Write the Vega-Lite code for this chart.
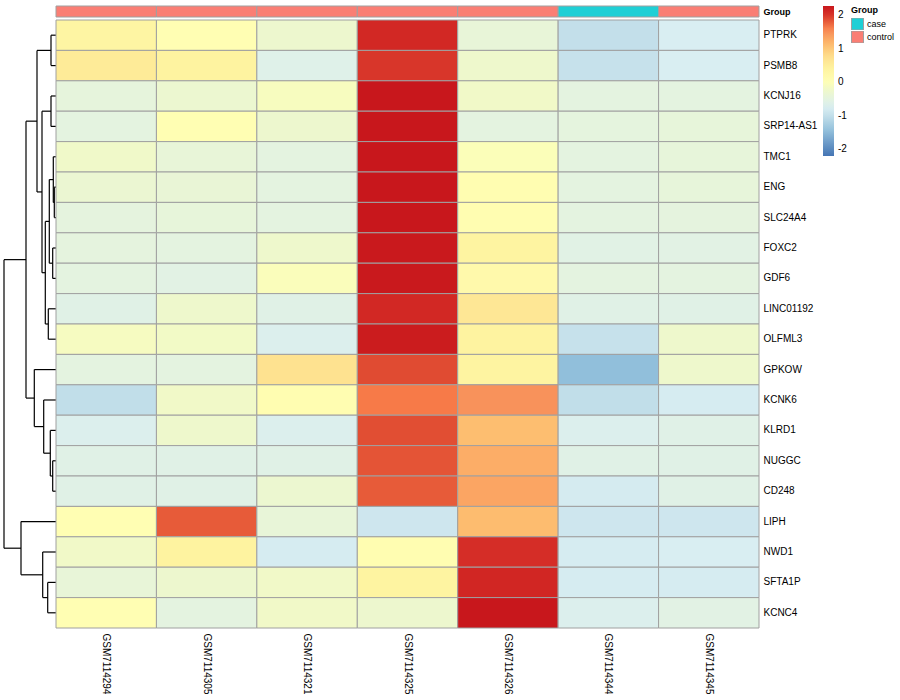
{
  "$schema": "https://vega.github.io/schema/vega-lite/v6.json",
  "padding": {"left": 3, "top": 5, "right": 0, "bottom": 0},
  "background": "white",
  "bounds": "flush",
  "config": {
    "view": {"stroke": null},
    "font": "Liberation Sans",
    "concat": {"spacing": 0},
    "axis": {"labelColor": "#000000", "labelFont": "Liberation Sans"},
    "legend": {"labelColor": "#000000", "titleColor": "#000000", "labelFont": "Liberation Sans", "titleFont": "Liberation Sans"}
  },
  "datasets": {
    "heat": [
      {"gene": "PTPRK", "sample": "GSM7114294", "value": 0.35},
      {"gene": "PTPRK", "sample": "GSM7114305", "value": 0.05},
      {"gene": "PTPRK", "sample": "GSM7114321", "value": -0.28},
      {"gene": "PTPRK", "sample": "GSM7114325", "value": 2.1},
      {"gene": "PTPRK", "sample": "GSM7114326", "value": -0.4},
      {"gene": "PTPRK", "sample": "GSM7114344", "value": -1.0},
      {"gene": "PTPRK", "sample": "GSM7114345", "value": -0.75},
      {"gene": "PSMB8", "sample": "GSM7114294", "value": 0.55},
      {"gene": "PSMB8", "sample": "GSM7114305", "value": 0.4},
      {"gene": "PSMB8", "sample": "GSM7114321", "value": -0.62},
      {"gene": "PSMB8", "sample": "GSM7114325", "value": 2.0},
      {"gene": "PSMB8", "sample": "GSM7114326", "value": -0.25},
      {"gene": "PSMB8", "sample": "GSM7114344", "value": -0.97},
      {"gene": "PSMB8", "sample": "GSM7114345", "value": -0.75},
      {"gene": "KCNJ16", "sample": "GSM7114294", "value": -0.45},
      {"gene": "KCNJ16", "sample": "GSM7114305", "value": -0.3},
      {"gene": "KCNJ16", "sample": "GSM7114321", "value": -0.1},
      {"gene": "KCNJ16", "sample": "GSM7114325", "value": 2.27},
      {"gene": "KCNJ16", "sample": "GSM7114326", "value": -0.2},
      {"gene": "KCNJ16", "sample": "GSM7114344", "value": -0.5},
      {"gene": "KCNJ16", "sample": "GSM7114345", "value": -0.5},
      {"gene": "SRP14-AS1", "sample": "GSM7114294", "value": -0.5},
      {"gene": "SRP14-AS1", "sample": "GSM7114305", "value": 0.05},
      {"gene": "SRP14-AS1", "sample": "GSM7114321", "value": -0.28},
      {"gene": "SRP14-AS1", "sample": "GSM7114325", "value": 2.27},
      {"gene": "SRP14-AS1", "sample": "GSM7114326", "value": -0.5},
      {"gene": "SRP14-AS1", "sample": "GSM7114344", "value": -0.47},
      {"gene": "SRP14-AS1", "sample": "GSM7114345", "value": -0.42},
      {"gene": "TMC1", "sample": "GSM7114294", "value": -0.22},
      {"gene": "TMC1", "sample": "GSM7114305", "value": -0.4},
      {"gene": "TMC1", "sample": "GSM7114321", "value": -0.5},
      {"gene": "TMC1", "sample": "GSM7114325", "value": 2.27},
      {"gene": "TMC1", "sample": "GSM7114326", "value": -0.03},
      {"gene": "TMC1", "sample": "GSM7114344", "value": -0.5},
      {"gene": "TMC1", "sample": "GSM7114345", "value": -0.42},
      {"gene": "ENG", "sample": "GSM7114294", "value": -0.33},
      {"gene": "ENG", "sample": "GSM7114305", "value": -0.38},
      {"gene": "ENG", "sample": "GSM7114321", "value": -0.5},
      {"gene": "ENG", "sample": "GSM7114325", "value": 2.27},
      {"gene": "ENG", "sample": "GSM7114326", "value": 0.08},
      {"gene": "ENG", "sample": "GSM7114344", "value": -0.5},
      {"gene": "ENG", "sample": "GSM7114345", "value": -0.42},
      {"gene": "SLC24A4", "sample": "GSM7114294", "value": -0.48},
      {"gene": "SLC24A4", "sample": "GSM7114305", "value": -0.42},
      {"gene": "SLC24A4", "sample": "GSM7114321", "value": -0.5},
      {"gene": "SLC24A4", "sample": "GSM7114325", "value": 2.27},
      {"gene": "SLC24A4", "sample": "GSM7114326", "value": 0.08},
      {"gene": "SLC24A4", "sample": "GSM7114344", "value": -0.5},
      {"gene": "SLC24A4", "sample": "GSM7114345", "value": -0.48},
      {"gene": "FOXC2", "sample": "GSM7114294", "value": -0.48},
      {"gene": "FOXC2", "sample": "GSM7114305", "value": -0.5},
      {"gene": "FOXC2", "sample": "GSM7114321", "value": -0.25},
      {"gene": "FOXC2", "sample": "GSM7114325", "value": 2.25},
      {"gene": "FOXC2", "sample": "GSM7114326", "value": 0.38},
      {"gene": "FOXC2", "sample": "GSM7114344", "value": -0.57},
      {"gene": "FOXC2", "sample": "GSM7114345", "value": -0.55},
      {"gene": "GDF6", "sample": "GSM7114294", "value": -0.5},
      {"gene": "GDF6", "sample": "GSM7114305", "value": -0.55},
      {"gene": "GDF6", "sample": "GSM7114321", "value": -0.05},
      {"gene": "GDF6", "sample": "GSM7114325", "value": 2.25},
      {"gene": "GDF6", "sample": "GSM7114326", "value": 0.2},
      {"gene": "GDF6", "sample": "GSM7114344", "value": -0.5},
      {"gene": "GDF6", "sample": "GSM7114345", "value": -0.5},
      {"gene": "LINC01192", "sample": "GSM7114294", "value": -0.58},
      {"gene": "LINC01192", "sample": "GSM7114305", "value": -0.25},
      {"gene": "LINC01192", "sample": "GSM7114321", "value": -0.58},
      {"gene": "LINC01192", "sample": "GSM7114325", "value": 2.1},
      {"gene": "LINC01192", "sample": "GSM7114326", "value": 0.62},
      {"gene": "LINC01192", "sample": "GSM7114344", "value": -0.58},
      {"gene": "LINC01192", "sample": "GSM7114345", "value": -0.58},
      {"gene": "OLFML3", "sample": "GSM7114294", "value": -0.12},
      {"gene": "OLFML3", "sample": "GSM7114305", "value": -0.18},
      {"gene": "OLFML3", "sample": "GSM7114321", "value": -0.68},
      {"gene": "OLFML3", "sample": "GSM7114325", "value": 2.22},
      {"gene": "OLFML3", "sample": "GSM7114326", "value": 0.4},
      {"gene": "OLFML3", "sample": "GSM7114344", "value": -0.97},
      {"gene": "OLFML3", "sample": "GSM7114345", "value": -0.25},
      {"gene": "GPKOW", "sample": "GSM7114294", "value": -0.5},
      {"gene": "GPKOW", "sample": "GSM7114305", "value": -0.5},
      {"gene": "GPKOW", "sample": "GSM7114321", "value": 0.72},
      {"gene": "GPKOW", "sample": "GSM7114325", "value": 1.88},
      {"gene": "GPKOW", "sample": "GSM7114326", "value": 0.38},
      {"gene": "GPKOW", "sample": "GSM7114344", "value": -1.45},
      {"gene": "GPKOW", "sample": "GSM7114345", "value": -0.25},
      {"gene": "KCNK6", "sample": "GSM7114294", "value": -1.02},
      {"gene": "KCNK6", "sample": "GSM7114305", "value": -0.2},
      {"gene": "KCNK6", "sample": "GSM7114321", "value": 0.08},
      {"gene": "KCNK6", "sample": "GSM7114325", "value": 1.65},
      {"gene": "KCNK6", "sample": "GSM7114326", "value": 1.48},
      {"gene": "KCNK6", "sample": "GSM7114344", "value": -1.02},
      {"gene": "KCNK6", "sample": "GSM7114345", "value": -0.78},
      {"gene": "KLRD1", "sample": "GSM7114294", "value": -0.68},
      {"gene": "KLRD1", "sample": "GSM7114305", "value": -0.25},
      {"gene": "KLRD1", "sample": "GSM7114321", "value": -0.68},
      {"gene": "KLRD1", "sample": "GSM7114325", "value": 1.86},
      {"gene": "KLRD1", "sample": "GSM7114326", "value": 1.1},
      {"gene": "KLRD1", "sample": "GSM7114344", "value": -0.68},
      {"gene": "KLRD1", "sample": "GSM7114345", "value": -0.6},
      {"gene": "NUGGC", "sample": "GSM7114294", "value": -0.58},
      {"gene": "NUGGC", "sample": "GSM7114305", "value": -0.58},
      {"gene": "NUGGC", "sample": "GSM7114321", "value": -0.58},
      {"gene": "NUGGC", "sample": "GSM7114325", "value": 1.83},
      {"gene": "NUGGC", "sample": "GSM7114326", "value": 1.25},
      {"gene": "NUGGC", "sample": "GSM7114344", "value": -0.58},
      {"gene": "NUGGC", "sample": "GSM7114345", "value": -0.58},
      {"gene": "CD248", "sample": "GSM7114294", "value": -0.58},
      {"gene": "CD248", "sample": "GSM7114305", "value": -0.58},
      {"gene": "CD248", "sample": "GSM7114321", "value": -0.3},
      {"gene": "CD248", "sample": "GSM7114325", "value": 1.8},
      {"gene": "CD248", "sample": "GSM7114326", "value": 1.32},
      {"gene": "CD248", "sample": "GSM7114344", "value": -0.8},
      {"gene": "CD248", "sample": "GSM7114345", "value": -0.58},
      {"gene": "LIPH", "sample": "GSM7114294", "value": 0.05},
      {"gene": "LIPH", "sample": "GSM7114305", "value": 1.8},
      {"gene": "LIPH", "sample": "GSM7114321", "value": -0.4},
      {"gene": "LIPH", "sample": "GSM7114325", "value": -0.88},
      {"gene": "LIPH", "sample": "GSM7114326", "value": 1.12},
      {"gene": "LIPH", "sample": "GSM7114344", "value": -0.88},
      {"gene": "LIPH", "sample": "GSM7114345", "value": -0.88},
      {"gene": "NWD1", "sample": "GSM7114294", "value": -0.2},
      {"gene": "NWD1", "sample": "GSM7114305", "value": 0.4},
      {"gene": "NWD1", "sample": "GSM7114321", "value": -0.78},
      {"gene": "NWD1", "sample": "GSM7114325", "value": 0.08},
      {"gene": "NWD1", "sample": "GSM7114326", "value": 2.05},
      {"gene": "NWD1", "sample": "GSM7114344", "value": -0.78},
      {"gene": "NWD1", "sample": "GSM7114345", "value": -0.75},
      {"gene": "SFTA1P", "sample": "GSM7114294", "value": -0.4},
      {"gene": "SFTA1P", "sample": "GSM7114305", "value": -0.28},
      {"gene": "SFTA1P", "sample": "GSM7114321", "value": -0.2},
      {"gene": "SFTA1P", "sample": "GSM7114325", "value": 0.38},
      {"gene": "SFTA1P", "sample": "GSM7114326", "value": 2.12},
      {"gene": "SFTA1P", "sample": "GSM7114344", "value": -0.78},
      {"gene": "SFTA1P", "sample": "GSM7114345", "value": -0.78},
      {"gene": "KCNC4", "sample": "GSM7114294", "value": 0.05},
      {"gene": "KCNC4", "sample": "GSM7114305", "value": -0.5},
      {"gene": "KCNC4", "sample": "GSM7114321", "value": -0.2},
      {"gene": "KCNC4", "sample": "GSM7114325", "value": -0.28},
      {"gene": "KCNC4", "sample": "GSM7114326", "value": 2.27},
      {"gene": "KCNC4", "sample": "GSM7114344", "value": -0.68},
      {"gene": "KCNC4", "sample": "GSM7114345", "value": -0.55}
    ],
    "annot": [
      {"sample": "GSM7114294", "track": "Group", "Group": "control"},
      {"sample": "GSM7114305", "track": "Group", "Group": "control"},
      {"sample": "GSM7114321", "track": "Group", "Group": "control"},
      {"sample": "GSM7114325", "track": "Group", "Group": "control"},
      {"sample": "GSM7114326", "track": "Group", "Group": "control"},
      {"sample": "GSM7114344", "track": "Group", "Group": "case"},
      {"sample": "GSM7114345", "track": "Group", "Group": "control"}
    ],
    "dendro": [
      {"h0": 5, "h1": 5, "p0": 0.5, "p1": 1.5},
      {"h0": 0, "h1": 5, "p0": 0.5, "p1": 0.5},
      {"h0": 0, "h1": 5, "p0": 1.5, "p1": 1.5},
      {"h0": 5, "h1": 5, "p0": 2.5, "p1": 3.5},
      {"h0": 0, "h1": 5, "p0": 2.5, "p1": 2.5},
      {"h0": 0, "h1": 5, "p0": 3.5, "p1": 3.5},
      {"h0": 1.7, "h1": 1.7, "p0": 5.5, "p1": 6.5},
      {"h0": 0, "h1": 1.7, "p0": 5.5, "p1": 5.5},
      {"h0": 0, "h1": 1.7, "p0": 6.5, "p1": 6.5},
      {"h0": 2.7, "h1": 2.7, "p0": 4.5, "p1": 6.0},
      {"h0": 0, "h1": 2.7, "p0": 4.5, "p1": 4.5},
      {"h0": 1.7, "h1": 2.7, "p0": 6.0, "p1": 6.0},
      {"h0": 3.3, "h1": 3.3, "p0": 7.5, "p1": 8.5},
      {"h0": 0, "h1": 3.3, "p0": 7.5, "p1": 7.5},
      {"h0": 0, "h1": 3.3, "p0": 8.5, "p1": 8.5},
      {"h0": 6.7, "h1": 6.7, "p0": 5.25, "p1": 8.0},
      {"h0": 2.7, "h1": 6.7, "p0": 5.25, "p1": 5.25},
      {"h0": 3.3, "h1": 6.7, "p0": 8.0, "p1": 8.0},
      {"h0": 7.7, "h1": 7.7, "p0": 9.5, "p1": 10.5},
      {"h0": 0, "h1": 7.7, "p0": 9.5, "p1": 9.5},
      {"h0": 0, "h1": 7.7, "p0": 10.5, "p1": 10.5},
      {"h0": 10.7, "h1": 10.7, "p0": 6.625, "p1": 10.0},
      {"h0": 6.7, "h1": 10.7, "p0": 6.625, "p1": 6.625},
      {"h0": 7.7, "h1": 10.7, "p0": 10.0, "p1": 10.0},
      {"h0": 14, "h1": 14, "p0": 3.0, "p1": 8.3125},
      {"h0": 5, "h1": 14, "p0": 3.0, "p1": 3.0},
      {"h0": 10.7, "h1": 14, "p0": 8.3125, "p1": 8.3125},
      {"h0": 19, "h1": 19, "p0": 1.0, "p1": 5.656},
      {"h0": 5, "h1": 19, "p0": 1.0, "p1": 1.0},
      {"h0": 14, "h1": 19, "p0": 5.656, "p1": 5.656},
      {"h0": 3.3, "h1": 3.3, "p0": 14.5, "p1": 15.5},
      {"h0": 0, "h1": 3.3, "p0": 14.5, "p1": 14.5},
      {"h0": 0, "h1": 3.3, "p0": 15.5, "p1": 15.5},
      {"h0": 5.7, "h1": 5.7, "p0": 13.5, "p1": 15.0},
      {"h0": 0, "h1": 5.7, "p0": 13.5, "p1": 13.5},
      {"h0": 3.3, "h1": 5.7, "p0": 15.0, "p1": 15.0},
      {"h0": 12.3, "h1": 12.3, "p0": 12.5, "p1": 14.25},
      {"h0": 0, "h1": 12.3, "p0": 12.5, "p1": 12.5},
      {"h0": 5.7, "h1": 12.3, "p0": 14.25, "p1": 14.25},
      {"h0": 21.7, "h1": 21.7, "p0": 11.5, "p1": 13.375},
      {"h0": 0, "h1": 21.7, "p0": 11.5, "p1": 11.5},
      {"h0": 12.3, "h1": 21.7, "p0": 13.375, "p1": 13.375},
      {"h0": 30, "h1": 30, "p0": 3.328, "p1": 12.4375},
      {"h0": 19, "h1": 30, "p0": 3.328, "p1": 3.328},
      {"h0": 21.7, "h1": 30, "p0": 12.4375, "p1": 12.4375},
      {"h0": 8.3, "h1": 8.3, "p0": 18.5, "p1": 19.5},
      {"h0": 0, "h1": 8.3, "p0": 18.5, "p1": 18.5},
      {"h0": 0, "h1": 8.3, "p0": 19.5, "p1": 19.5},
      {"h0": 13.3, "h1": 13.3, "p0": 17.5, "p1": 19.0},
      {"h0": 0, "h1": 13.3, "p0": 17.5, "p1": 17.5},
      {"h0": 8.3, "h1": 13.3, "p0": 19.0, "p1": 19.0},
      {"h0": 35, "h1": 35, "p0": 16.5, "p1": 18.25},
      {"h0": 0, "h1": 35, "p0": 16.5, "p1": 16.5},
      {"h0": 13.3, "h1": 35, "p0": 18.25, "p1": 18.25},
      {"h0": 52, "h1": 52, "p0": 7.883, "p1": 17.375},
      {"h0": 30, "h1": 52, "p0": 7.883, "p1": 7.883},
      {"h0": 35, "h1": 52, "p0": 17.375, "p1": 17.375}
    ]
  },
  "hconcat": [
    {
      "data": {"name": "dendro"},
      "width": 52,
      "height": 622,
      "mark": {"type": "rule", "color": "#000000", "strokeWidth": 1.2},
      "encoding": {
        "x": {"field": "h0", "type": "quantitative", "scale": {"domain": [0, 52], "reverse": true, "nice": false, "zero": false}, "axis": null},
        "x2": {"field": "h1"},
        "y": {"field": "p0", "type": "quantitative", "scale": {"domain": [-0.46, 20], "reverse": true, "nice": false, "zero": false}, "axis": null},
        "y2": {"field": "p1"}
      }
    },
    {
      "spacing": 3,
      "bounds": "flush",
      "vconcat": [
        {
          "data": {"name": "annot"},
          "width": 703,
          "height": 11,
          "mark": {"type": "rect", "stroke": "#A0A0A0", "strokeWidth": 1},
          "encoding": {
            "x": {"field": "sample", "type": "nominal", "sort": null, "scale": {"paddingInner": 0, "paddingOuter": 0}, "axis": null},
            "y": {"field": "track", "type": "nominal", "scale": {"paddingInner": 0, "paddingOuter": 0}, "axis": {"orient": "right", "title": null, "ticks": false, "domain": false, "labelFontWeight": "bold", "labelFontSize": 9, "labelPadding": 4}},
            "fill": {"field": "Group", "type": "nominal", "scale": {"domain": ["case", "control"], "range": ["#1FCFD5", "#FA7E74"]},
              "legend": {"orient": "none", "legendX": 847, "legendY": 0, "title": "Group", "titleFontSize": 9, "titleFontWeight": "bold", "titlePadding": 3, "symbolType": "square", "symbolSize": 144, "symbolStrokeColor": "#A0A0A0", "symbolStrokeWidth": 1, "symbolOpacity": 1, "labelFontSize": 9, "rowPadding": 1, "clipHeight": 12, "labelOffset": 3}}
          }
        },
        {
          "data": {"name": "heat"},
          "width": 703,
          "height": 608,
          "mark": {"type": "rect", "stroke": "#A0A0A0", "strokeWidth": 1},
          "encoding": {
            "x": {"field": "sample", "type": "nominal", "sort": null, "scale": {"paddingInner": 0, "paddingOuter": 0},
              "axis": {"orient": "bottom", "title": null, "ticks": false, "domain": false, "labelAngle": 90, "labelAlign": "left", "labelBaseline": "middle", "labelFontSize": 10, "labelPadding": 5}},
            "y": {"field": "gene", "type": "nominal", "sort": null, "scale": {"paddingInner": 0, "paddingOuter": 0},
              "axis": {"orient": "right", "title": null, "ticks": false, "domain": false, "labelFontSize": 10, "labelPadding": 4}},
            "color": {"field": "value", "type": "quantitative",
              "scale": {"type": "linear", "interpolate": "rgb", "clamp": true,
                "domain": [-2.2, -1.45, -1.0, -0.75, -0.5, -0.25, 0.03, 0.4, 0.75, 1.15, 1.5, 1.65, 1.85, 2.05, 2.27],
                "range": ["#4575B4", "#91BFDB", "#C3DFEA", "#D9EEF2", "#E4F3E0", "#EEF8CC", "#FFFFB4", "#FEF3A0", "#FEE08E", "#FDB96C", "#F8905A", "#F77A48", "#E25034", "#D52D27", "#C8171C"]},
              "legend": {"orient": "none", "legendX": 819, "legendY": 0, "title": null, "direction": "vertical", "gradientLength": 150, "gradientThickness": 11, "gradientStrokeWidth": 0, "values": [-2, -1, 0, 1, 2], "labelExpr": "'' + datum.value", "labelFontSize": 10, "labelOverlap": false, "labelOffset": 4}}
          }
        }
      ]
    }
  ]
}
